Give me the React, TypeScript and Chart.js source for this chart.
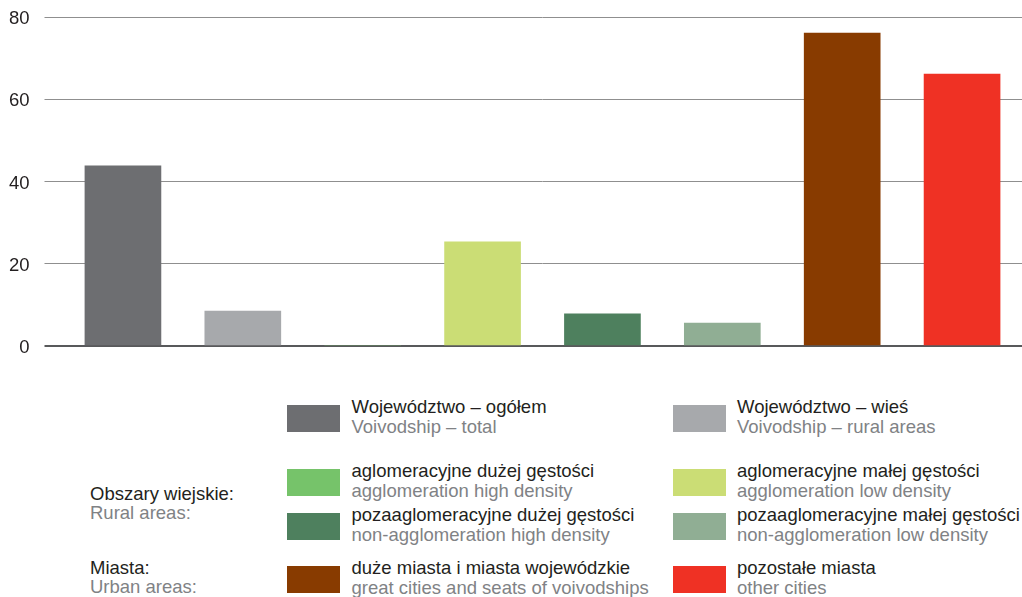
import React, { useEffect, useRef } from "react";
import { Chart, registerables } from "chart.js";

Chart.register(...registerables);

// ---- data ----
const categoriesPl = [
  "Województwo – ogółem",
  "Województwo – wieś",
  "aglomeracyjne dużej gęstości",
  "aglomeracyjne małej gęstości",
  "pozaaglomeracyjne dużej gęstości",
  "pozaaglomeracyjne małej gęstości",
  "duże miasta i miasta wojewódzkie",
  "pozostałe miasta",
];
const categoriesEn = [
  "Voivodship – total",
  "Voivodship – rural areas",
  "agglomeration high density",
  "agglomeration low density",
  "non-agglomeration high density",
  "non-agglomeration low density",
  "great cities and seats of voivodships",
  "other cities",
];
const values = [43.8, 8.5, 0, 25.3, 7.8, 5.6, 76.1, 66.1];
const barColors = [
  "#6d6e71",
  "#a7a9ac",
  "#76c36a",
  "#cbdd75",
  "#4e805e",
  "#90ae94",
  "#883b00",
  "#ef3124",
];
const yTicks = [0, 20, 40, 60, 80];
const groupLabelsPl = ["Obszary wiejskie:", "Miasta:"];
const groupLabelsEn = ["Rural areas:", "Urban areas:"];

// ---- layout constants ----
const FONT = '"Liberation Sans", Arial, Helvetica, sans-serif';
const FONT_SIZE = 18.5;
const DARK = "#231f20";
const GRAY = "#808285";
const legendRows = [
  [0, 1],
  [2, 3],
  [4, 5],
  [6, 7],
];
const rowTops = [405, 469, 513, 566];
const columns = [
  { swatchX: 287, textX: 351.5 },
  { swatchX: 673, textX: 737 },
];
const groupTops = [484, 558];

function LegendItem({ idx, col, top }: { idx: number; col: number; top: number }) {
  const c = columns[col];
  return (
    <>
      <div
        style={{
          position: "absolute",
          left: c.swatchX,
          top,
          width: 53,
          height: 27,
          background: barColors[idx],
        }}
      />
      <div
        style={{
          position: "absolute",
          left: c.textX,
          top: top - 7.9,
          lineHeight: "20px",
          whiteSpace: "nowrap",
        }}
      >
        <div style={{ color: DARK }}>{categoriesPl[idx]}</div>
        <div style={{ color: GRAY }}>{categoriesEn[idx]}</div>
      </div>
    </>
  );
}

export default function App() {
  const canvasRef = useRef<HTMLCanvasElement | null>(null);

  useEffect(() => {
    if (!canvasRef.current) return;
    const chart = new Chart(canvasRef.current, {
      type: "bar",
      data: {
        labels: categoriesPl,
        datasets: [
          {
            data: values,
            backgroundColor: barColors,
            borderWidth: 0,
            barThickness: 76,
          },
        ],
      },
      options: {
        animation: false,
        responsive: false,
        layout: { padding: { top: 17, bottom: 14, left: 0, right: 0 } },
        plugins: {
          legend: { display: false },
          tooltip: { enabled: false },
        },
        scales: {
          x: {
            display: false,
            offset: true,
          },
          y: {
            min: 0,
            max: 80,
            afterBuildTicks: (axis: any) => {
              axis.ticks = yTicks.map((v) => ({ value: v }));
            },
            afterFit: (axis: any) => {
              axis.width = 63;
              axis.paddingTop = 0;
              axis.paddingBottom = 0;
            },
            border: { display: false },
            grid: {
              color: (ctx: any) => (ctx.tick && ctx.tick.value === 0 ? "#58595b" : "#8f8f8f"),
              lineWidth: (ctx: any) => (ctx.tick && ctx.tick.value === 0 ? 2 : 1),
              drawTicks: true,
              tickLength: 18.5,
            },
            ticks: {
              font: { family: FONT, size: FONT_SIZE },
              color: DARK,
              padding: 15,
              labelOffset: 2,
            },
          },
        },
      },
    });
    return () => chart.destroy();
  }, []);

  return (
    <div
      style={{
        position: "absolute",
        left: 0,
        top: 0,
        width: 1022,
        height: 597,
        overflow: "hidden",
        background: "#fff",
        fontFamily: FONT,
        fontSize: FONT_SIZE,
      }}
    >
      <canvas
        ref={canvasRef}
        width={1022}
        height={360}
        style={{ position: "absolute", left: 0, top: 0, width: 1022, height: 360 }}
      />
      {legendRows.map((row, r) =>
        row.map((idx, col) => <LegendItem key={idx} idx={idx} col={col} top={rowTops[r]} />)
      )}
      {groupLabelsPl.map((g, i) => (
        <div
          key={g}
          style={{
            position: "absolute",
            left: 90,
            top: groupTops[i],
            lineHeight: "19px",
            whiteSpace: "nowrap",
          }}
        >
          <div style={{ color: DARK }}>{g}</div>
          <div style={{ color: GRAY }}>{groupLabelsEn[i]}</div>
        </div>
      ))}
    </div>
  );
}
